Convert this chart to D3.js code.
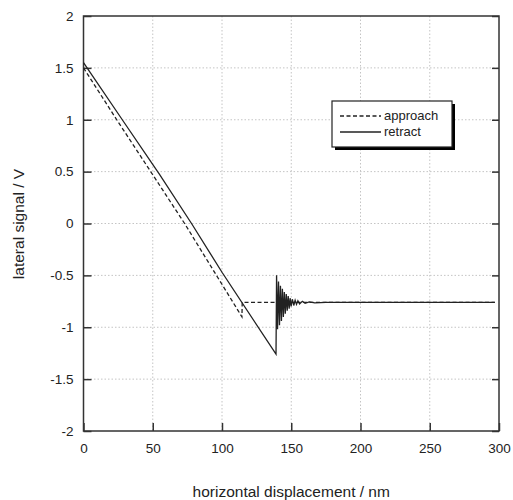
<!DOCTYPE html>
<html>
<head>
<meta charset="utf-8">
<script src="https://cdn.jsdelivr.net/npm/d3@7"></script>
<style>
  body { margin: 0; background: #fff; }
  text { font-family: "Liberation Sans", Arial, sans-serif; fill: #222; }
</style>
</head>
<body>
<div id="chart"></div>
<script>
// data
const xTicks = [0, 50, 100, 150, 200, 250, 300];
const yTicks = [-2, -1.5, -1, -0.5, 0, 0.5, 1, 1.5, 2];

const approachX = [0, 24, 50, 73, 96, 114.4, 114.6, 297];
const approachY = [1.50, 1.00, 0.47, 0.00, -0.50, -0.90, -0.76, -0.76];

const retractX = [0, 28, 55, 78, 100, 139, 139.4, 140.1, 140.8, 141.5, 142.2, 142.9, 143.6, 144.3, 145.0,
  145.7, 146.4, 147.1, 147.8, 148.5, 149.2, 149.9, 150.8, 151.8, 152.8, 153.8, 154.8, 156, 158, 160, 163, 167, 175, 297];
const retractY = [1.55, 1.00, 0.47, 0.00, -0.47, -1.26, -0.50, -1.02, -0.56, -0.98, -0.60, -0.94, -0.63, -0.90, -0.66,
  -0.87, -0.68, -0.84, -0.70, -0.82, -0.72, -0.80, -0.73, -0.79, -0.74, -0.78, -0.745, -0.775, -0.75, -0.77, -0.755, -0.765, -0.76, -0.76];

const series = [
  { name: "approach", xs: approachX, ys: approachY, dash: "4,2.5" },
  { name: "retract", xs: retractX, ys: retractY, dash: null }
];

const width = 513, height = 500;
const svg = d3.select("#chart").append("svg")
  .attr("width", width)
  .attr("height", height);

const x = d3.scaleLinear().domain([0, 300]).range([83.5, 499]);
const y = d3.scaleLinear().domain([-2, 2]).range([431, 16]);

// grid
svg.append("g").selectAll("line")
  .data(xTicks.slice(1, -1))
  .enter().append("line")
    .attr("x1", d => x(d)).attr("x2", d => x(d))
    .attr("y1", y(2)).attr("y2", y(-2))
    .attr("stroke", "#c4c4c4").attr("stroke-dasharray", "1.5,2");

svg.append("g").selectAll("line")
  .data(yTicks.slice(1, -1))
  .enter().append("line")
    .attr("x1", x(0)).attr("x2", x(300))
    .attr("y1", d => y(d)).attr("y2", d => y(d))
    .attr("stroke", "#c4c4c4").attr("stroke-dasharray", "1.5,2");

// axes, ticks pointing inward; plain hyphen for negatives like the original
const fmt = d => String(d);
const gx = svg.append("g")
  .attr("transform", `translate(0,${y(-2)})`)
  .call(d3.axisBottom(x).tickValues(xTicks).tickSize(-8).tickPadding(12).tickFormat(fmt));
const gy = svg.append("g")
  .attr("transform", `translate(${x(0)},0)`)
  .call(d3.axisLeft(y).tickValues(yTicks).tickSize(-8).tickPadding(10).tickFormat(fmt));
const gr = svg.append("g")
  .attr("transform", `translate(${x(300)},0)`)
  .call(d3.axisRight(y).tickValues(yTicks).tickSize(-7).tickFormat(""));

[gx, gy, gr].forEach(g => {
  g.select(".domain").remove();
  g.selectAll("line").attr("stroke", "#333").attr("stroke-width", 1.5);
  g.selectAll("text").attr("font-size", 13.5).attr("fill", "#222")
    .style("font-family", "Liberation Sans, Arial, sans-serif");
});

svg.append("rect")
  .attr("x", x(0)).attr("y", y(2))
  .attr("width", x(300) - x(0)).attr("height", y(-2) - y(2))
  .attr("fill", "none").attr("stroke", "#333").attr("stroke-width", 1.5);

// curves
const line = d3.line().x(d => x(d[0])).y(d => y(d[1]));
series.forEach(s => {
  svg.append("path")
    .datum(s.xs.map((v, i) => [v, s.ys[i]]))
    .attr("d", line)
    .attr("fill", "none")
    .attr("stroke", "#222")
    .attr("stroke-width", 1.3)
    .attr("stroke-dasharray", s.dash);
});

// legend
const lg = svg.append("g").attr("transform", "translate(332,101)");
lg.append("rect").attr("x", 3).attr("y", 3).attr("width", 120).attr("height", 46).attr("fill", "#000");
lg.append("rect").attr("width", 120).attr("height", 46).attr("fill", "#fff")
  .attr("stroke", "#222").attr("stroke-width", 1.2);
series.forEach((s, i) => {
  lg.append("line")
    .attr("x1", 8).attr("x2", 49)
    .attr("y1", 15 + i * 16).attr("y2", 15 + i * 16)
    .attr("stroke", "#222").attr("stroke-width", 1.3)
    .attr("stroke-dasharray", s.dash);
  lg.append("text")
    .attr("x", 52).attr("y", 19 + i * 16)
    .attr("font-size", 13)
    .text(s.name);
});

// axis titles
svg.append("text")
  .attr("x", (x(0) + x(300)) / 2)
  .attr("y", 497)
  .attr("text-anchor", "middle")
  .attr("font-size", 15.5)
  .text("horizontal displacement / nm");

svg.append("text")
  .attr("transform", "rotate(-90)")
  .attr("x", -224)
  .attr("y", 24)
  .attr("text-anchor", "middle")
  .attr("font-size", 15.5)
  .text("lateral signal / V");
</script>
</body>
</html>
